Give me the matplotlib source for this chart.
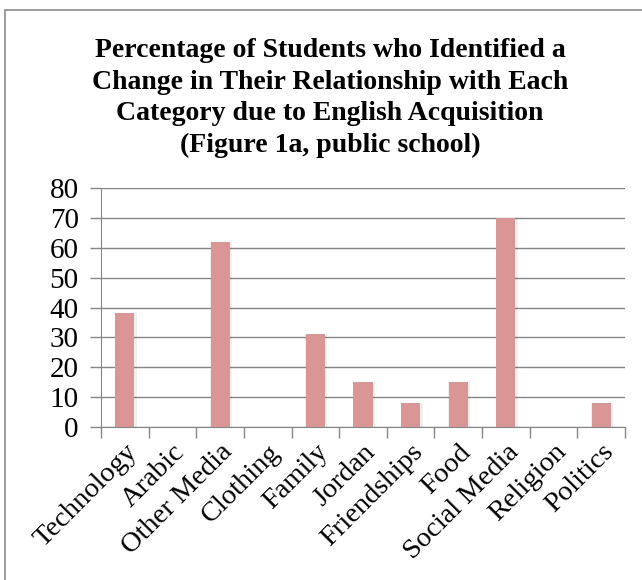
import matplotlib
matplotlib.use('Agg')
import matplotlib.pyplot as plt
from matplotlib.patches import Rectangle
import numpy as np

categories = ['Technology', 'Arabic', 'Other Media', 'Clothing', 'Family', 'Jordan',
              'Friendships', 'Food', 'Social Media', 'Religion', 'Politics']
percentages = [38, 0, 62, 0, 31, 15, 8, 15, 70, 0, 8]
y_ticks = [0, 10, 20, 30, 40, 50, 60, 70, 80]

title = ('Percentage of Students who Identified a\n'
         'Change in Their Relationship with Each\n'
         'Category due to English Acquisition\n'
         '(Figure 1a, public school)')

plt.rcParams['font.family'] = ['Liberation Serif', 'DejaVu Serif']

W, H = 642, 580
fig = plt.figure(figsize=(W / 100, H / 100), dpi=100)
ax = fig.add_axes([101 / W, 1 - 427 / H, 524 / W, 239 / H])

# outer chart frame (runs off the right and bottom edges)
fig.patches.append(Rectangle((5 / W, -0.1), 1.2, 1 - 10 / H + 0.1,
                             transform=fig.transFigure, fill=False,
                             edgecolor='#8c8c8c', linewidth=1.2))

x = np.arange(len(categories))
# soft drop shadow behind each bar
ax.bar(x + 0.02, percentages, width=0.46, color='#000000', alpha=0.06, zorder=2)
ax.bar(x, percentages, width=0.4, color='#d99694', zorder=3)

ax.set_xlim(-0.5, len(categories) - 0.5)
ax.set_ylim(0, 80)
ax.set_yticks(y_ticks)
ax.tick_params(axis='y', labelsize=21, length=8, color='#868686', width=1, pad=8)
ax.yaxis.grid(True, color='#868686', linewidth=1, zorder=0)

# category ticks sit on the boundaries between bars
ax.set_xticks(np.arange(len(categories) + 1) - 0.5)
ax.set_xticklabels([])
ax.set_xticks(x, minor=True)
ax.set_xticklabels(categories, minor=True, rotation=45, ha='right',
                   rotation_mode='anchor', fontsize=20.5)
ax.tick_params(axis='x', which='major', length=8, color='#868686', width=1)
ax.tick_params(axis='x', which='minor', length=0, pad=9)

for side in ['top', 'right']:
    ax.spines[side].set_visible(False)
for side in ['left', 'bottom']:
    ax.spines[side].set_color('#868686')

fig.text(330 / W, 1 - 98 / H, title, ha='center', va='center',
         fontsize=20, fontweight='bold', linespacing=1.35)

fig.savefig('out.png', dpi=100)
